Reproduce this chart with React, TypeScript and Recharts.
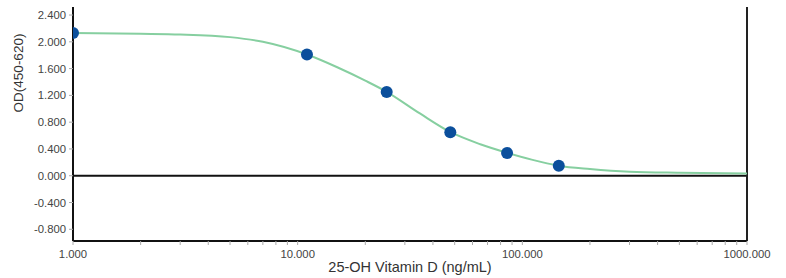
import React from 'react';
import {
    ComposedChart,
    Line,
    Scatter,
    XAxis,
    YAxis,
    ReferenceLine,
    Label
} from "recharts"

// fitted curve
const curveX = [1, 2, 3, 5, 7, 11, 15, 20, 25, 35, 48, 65, 86, 110, 145, 200, 300, 500, 1000];
const curveY = [2.13, 2.12, 2.11, 2.07, 2.0, 1.81, 1.62, 1.42, 1.25, 0.93, 0.65, 0.47, 0.34, 0.24, 0.15, 0.10, 0.06, 0.045, 0.035];

// standards (measured points)
const pointX = [1, 11.0, 24.9, 47.8, 85.5, 145.3];
const pointY = [2.13, 1.81, 1.25, 0.65, 0.34, 0.15];

const xTicks = [1, 2, 3, 4, 5, 6, 7, 8, 9, 10, 20, 30, 40, 50, 60, 70, 80, 90, 100, 200, 300, 400, 500, 600, 700, 800, 900, 1000];
const xLabelTicks = [1, 10, 100, 1000];
const yTicks = [-0.8, -0.4, 0, 0.4, 0.8, 1.2, 1.6, 2.0, 2.4];

const curveData = curveX.map((x, i) => ({ x, y: curveY[i] }));
const pointData = pointX.map((x, i) => ({ x, y: pointY[i] }));

const FONT = '"Liberation Sans", Arial, sans-serif';

const XTick = (props: any) => {
    const { x, y, payload } = props;
    if (!xLabelTicks.includes(payload.value)) return null;
    return (
        <text x={x} y={y + 11} textAnchor="middle" fontSize={11.3} fill="#444" fontFamily={FONT}>
            {payload.value.toFixed(3)}
        </text>
    );
};

const App: React.FC = () => {
    return (
        <div style={{ position: 'absolute', left: 0, top: 0, background: '#fff' }}>
            <ComposedChart width={786} height={278} margin={{ top: 7, right: 39, left: 0, bottom: 0 }}>
                <XAxis
                    dataKey="x"
                    type="number"
                    scale="log"
                    domain={[1, 1000]}
                    ticks={xTicks}
                    interval={0}
                    allowDataOverflow
                    height={37}
                    axisLine={{ stroke: '#111', strokeWidth: 2 }}
                    tickLine={{ stroke: '#aaa' }}
                    tickSize={4}
                    tick={<XTick />}
                >
                    <Label content={() => (
                        <text x={410} y={272} textAnchor="middle" fontSize={14.5} fill="#333" fontFamily={FONT}>
                            25-OH Vitamin D (ng/mL)
                        </text>
                    )} />
                </XAxis>
                <YAxis
                    dataKey="y"
                    type="number"
                    domain={[-0.975, 2.52]}
                    ticks={yTicks}
                    interval={0}
                    allowDataOverflow
                    width={73}
                    axisLine={{ stroke: '#111', strokeWidth: 2 }}
                    tickLine={{ stroke: '#aaa' }}
                    tickSize={4}
                    tickMargin={3}
                    tick={{ fontSize: 11.3, fill: '#444', fontFamily: FONT }}
                    tickFormatter={(v: number) => v.toFixed(3)}
                >
                    <Label content={() => (
                        <text x={18} y={73} transform="rotate(-90 18 73)" textAnchor="middle" dominantBaseline="central" fontSize={13.5} fill="#333" fontFamily={FONT}>
                            OD(450-620)
                        </text>
                    )} />
                </YAxis>
                <ReferenceLine y={0} stroke="#111" strokeWidth={2} />
                <ReferenceLine x={1000} stroke="#222" strokeWidth={2} />
                <Line
                    data={curveData}
                    dataKey="y"
                    type="monotone"
                    stroke="#86cfa0"
                    strokeWidth={2}
                    dot={false}
                    activeDot={false}
                    isAnimationActive={false}
                />
                <Scatter
                    data={pointData}
                    dataKey="y"
                    fill="#0b4f9c"
                    isAnimationActive={false}
                    shape={(p: any) => <circle cx={p.cx} cy={p.cy} r={6} fill="#0b4f9c" />}
                />
            </ComposedChart>
        </div>
    );
}

export default App;
